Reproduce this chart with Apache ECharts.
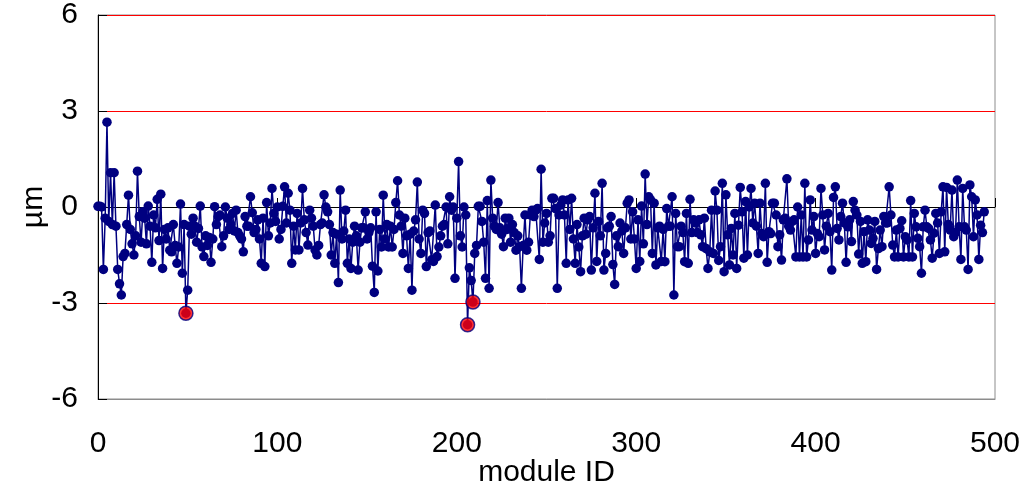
<!DOCTYPE html>
<html><head><meta charset="utf-8">
<script src="https://cdn.jsdelivr.net/npm/echarts@6/dist/echarts.min.js"></script>
<style>html,body{margin:0;padding:0;background:#fff}#c{width:1024px;height:489px}</style>
</head><body><div id="c"></div>
<script>
const xTicks = [0, 100, 200, 300, 400, 500];
const yTicks = [-6, -3, 0, 3, 6];
const xTitle = 'module ID';
const yTitle = 'µm';
const moduleValues = [
  0.02, 0.02, 0.0, -1.95, -0.35, 2.65, -0.45, 1.07, -0.55, 1.07,
  -0.6, -1.95, -2.4, -2.75, -1.55, -1.45, -0.55, 0.37, -0.7, -1.15,
  -1.5, -0.9, 1.12, -0.3, -1.1, -0.15, -0.35, -1.15, 0.03, -0.6,
  -1.73, -0.25, -0.65, 0.24, -1.05, 0.4, -1.92, -0.7, -1.0, -0.65,
  -1.35, -1.4, -0.55, -1.2, -1.76, -1.25, 0.09, -2.07, -0.55, -3.32,
  -2.6, -0.6, -0.85, -0.35, -0.6, -1.1, -0.67, 0.03, -1.25, -1.55,
  -0.9, -1.2, -0.95, -1.73, -1.0, 0.01, -0.55, -0.3, -0.25, -1.24,
  -0.9, 0.0, -0.35, -0.7, -0.55, -0.2, -0.75, -0.1, -0.8, -0.9,
  -1.0, -1.4, -0.3, -0.6, -0.6, 0.32, -0.18, -0.8, -0.7, -0.4,
  -1.0, -1.76, -0.35, -1.86, 0.14, -0.9, -0.5, 0.58, -0.2, -0.45,
  0.0, -1.0, -0.7, 0.02, 0.63, -0.5, 0.43, -0.1, -1.76, -0.6,
  -1.34, -0.2, -1.34, -0.5, 0.58, -0.4, -0.8, -1.19, -0.1, -0.35,
  -0.6, -1.34, -1.5, -1.2, -0.55, -0.5, 0.38, 0.0, -0.15, -0.55,
  -1.5, -0.8, -1.76, -0.85, -2.36, 0.53, -1.0, -0.75, -0.1, -1.76,
  -1.0, -1.92, -1.1, -0.6, -0.9, -1.97, -1.1, -0.65, -0.65, -0.15,
  -1.0, -0.8, -0.65, -1.85, -2.67, -0.15, -2.0, -0.7, -1.25, 0.37,
  -1.0, -0.55, -1.25, -0.6, -1.25, -0.7, 0.14, 0.82, -0.25, -0.6,
  -1.45, -0.35, -0.9, -1.92, -0.85, -2.6, -0.75, -0.4, 0.78, -1.0,
  -1.45, -0.1, -0.2, -1.86, -0.8, -0.75, -1.65, -1.7, 0.06, -1.55,
  -1.25, -0.9, -0.6, -0.55, 0.0, -1.15, 0.32, -0.1, 0.0, -2.23,
  -0.35, 1.42, -0.9, -1.25, 0.0, -0.25, -3.68, -1.9, -2.3, -2.97,
  -1.45, -1.2, 0.02, 0.02, -0.45, -1.1, -2.23, 0.2, -2.54, 0.84,
  -0.35, -0.6, -0.7, 0.14, -0.65, -0.85, -1.24, -0.35, -0.7, -0.35,
  -1.1, -0.55, -0.8, -1.35, -0.9, -1.24, -2.54, -1.2, -0.25, -1.35,
  -1.1, -0.25, -0.1, -0.3, -0.1, -0.05, -1.64, 1.18, -1.1, -0.5,
  -0.2, -1.1, -0.9, 0.27, 0.27, -0.05, -2.54, -0.25, 0.06, 0.22,
  -0.25, -1.76, 0.22, -0.7, 0.27, -1.0, -1.76, -0.55, -1.25, -2.02,
  -0.9, -0.35, -0.85, -0.4, -0.3, -1.97, -0.65, 0.43, -1.7, -0.45,
  -0.9, 0.74, -1.97, -1.45, -0.65, -0.6, -0.3, -1.8, -2.42, -0.9,
  -1.24, -0.5, -0.75, -1.45, -0.65, 0.12, 0.22, -1.0, -0.15, -1.0,
  -1.92, -0.4, -1.7, 0.03, -1.15, 1.03, -0.55, 0.32, 0.22, -1.45,
  0.12, -1.81, -0.65, -0.6, -1.7, -0.7, -1.71, -0.05, -0.6, -0.6,
  0.32, -2.75, -0.2, -1.24, -1.24, -0.6, -0.8, -1.71, -0.2, -1.76,
  0.24, -0.8, -0.4, -0.5, -0.8, -0.4, -0.87, -1.24, -0.35, -1.3,
  -1.92, -1.4, -0.1, -1.45, 0.5, -0.1, -1.67, -1.24, 0.74, -2.02,
  0.38, -0.87, -1.81, -0.67, -1.5, -0.2, -1.92, -0.57, 0.61, -0.15,
  -1.6, 0.17, -1.5, 0.0, 0.58, -0.5, 0.12, -0.6, -1.45, 0.12,
  -0.83, -0.93, 0.74, -1.73, -0.77, -0.83, 0.12, 0.12, -0.25, -1.24,
  -0.87, -1.66, -0.4, -0.35, 0.88, -0.6, -0.72, -0.45, -0.4, -1.56,
  0.0, -1.56, -0.25, -1.56, 0.74, -1.56, -1.03, 0.22, -0.72, -0.3,
  -1.45, -0.83, -0.93, 0.58, -0.25, -1.34, -0.6, -0.2, -0.77, -1.97,
  0.3, 0.63, -0.67, -1.03, -0.3, 0.12, -0.5, -1.73, -0.62, -0.4,
  -1.08, 0.17, -0.1, -0.25, -1.47, -0.45, -1.76, -0.77, -1.71, -0.4,
  -0.72, -1.14, -0.98, -0.45, -1.95, -1.3, -0.72, -1.24, -0.3, -0.5,
  -0.5, 0.63, -0.25, -1.19, -1.56, -0.72, -1.56, -0.67, -0.43, -1.56,
  -0.93, -1.03, -1.56, 0.2, -1.56, -0.2, -0.62, -0.98, -1.24, -2.07,
  -0.62, -0.1, -0.62, -0.67, -1.03, -1.6, -0.82, -0.2, -0.5, -1.45,
  -0.15, 0.63, -1.4, 0.61, -0.55, -0.72, 0.53, -0.93, -0.8, 0.84,
  -0.62, -1.64, 0.58, -0.62, -0.72, -1.95, 0.69, 0.32, -0.93, 0.22,
  -0.25, -1.64, -0.57, -0.8, -0.15
];
const outlierIds = [49, 206, 209];

const FONT = 'Liberation Sans, Arial, sans-serif';
const FS = 30;
const lineData = moduleValues.map((v, i) => [i, v]);
const outlierData = outlierIds.map(i => [i, moduleValues[i]]);

const chart = echarts.init(document.getElementById('c'), null, {renderer: 'canvas'});
chart.setOption({
  animation: false,
  backgroundColor: '#ffffff',
  grid: {left: 98, right: 29, top: 15, bottom: 90, containLabel: false, outerBoundsMode: 'none',
         show: true, borderColor: '#8c8c8c', borderWidth: 1, backgroundColor: 'transparent'},
  xAxis: [{
    type: 'value', min: xTicks[0], max: xTicks[xTicks.length - 1], interval: 100,
    position: 'bottom',
    axisLine: {show: true, onZero: false, lineStyle: {color: '#8c8c8c', width: 1}},
    axisTick: {show: false},
    splitLine: {show: false},
    axisLabel: {fontFamily: FONT, fontSize: FS, color: '#000', margin: 30},
    name: xTitle, nameLocation: 'middle', nameGap: 59, nameMoveOverlap: false,
    nameTextStyle: {fontFamily: FONT, fontSize: FS, color: '#000'}
  }, {
    type: 'value', min: xTicks[0], max: xTicks[xTicks.length - 1], interval: 100,
    position: 'bottom',
    axisLine: {show: true, onZero: true, lineStyle: {color: '#000000', width: 1}},
    axisTick: {show: true, inside: true, length: 9, lineStyle: {color: '#000', width: 1}},
    axisLabel: {show: false},
    splitLine: {show: false}
  }],
  yAxis: {
    type: 'value', min: yTicks[0], max: yTicks[yTicks.length - 1], interval: 3,
    axisLine: {show: true, onZero: false, lineStyle: {color: '#000', width: 1}},
    axisTick: {show: true, inside: true, length: 9, lineStyle: {color: '#000', width: 1}},
    splitLine: {show: true, lineStyle: {color: ['#8c8c8c', '#FF0000', '#000000', '#FF0000', '#FF0000'], width: 1}},
    axisLabel: {fontFamily: FONT, fontSize: FS, color: '#000', margin: 20},
    name: yTitle, nameLocation: 'middle', nameGap: 49, nameRotate: 90, nameMoveOverlap: false,
    nameTextStyle: {fontFamily: FONT, fontSize: FS, color: '#000'}
  },
  series: [{
    type: 'line', xAxisIndex: 0, data: lineData,
    symbol: 'circle', symbolSize: 9.5, showAllSymbol: true,
    lineStyle: {color: '#000080', width: 1.5},
    itemStyle: {color: '#000080'},
    z: 3
  }, {
    type: 'scatter', xAxisIndex: 0, data: outlierData,
    symbol: 'circle', symbolSize: 14,
    itemStyle: {color: '#FF0000', borderColor: '#000080', borderWidth: 1.5},
    z: 4
  }]
});
</script>
</body></html>
